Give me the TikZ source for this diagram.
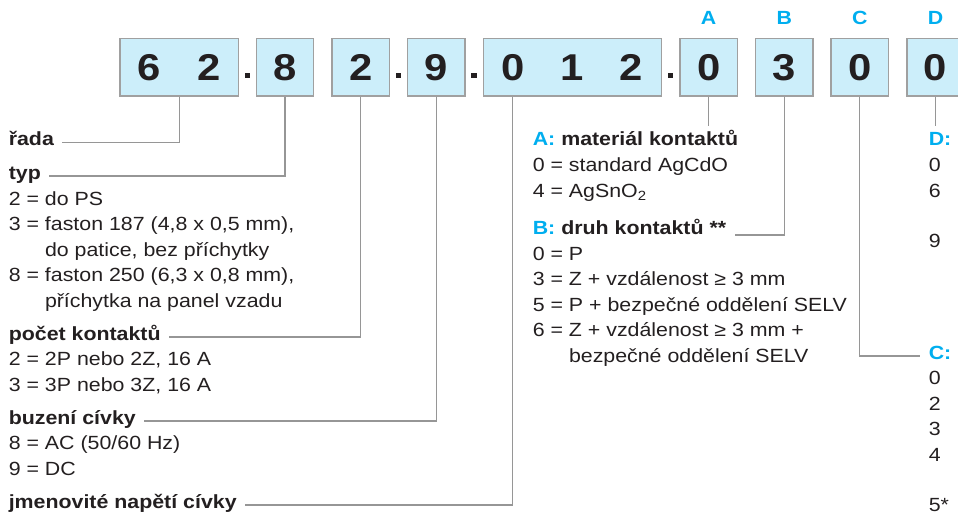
\documentclass[tikz,border=0pt]{standalone}
\usepackage{fontspec}
\setmainfont{Liberation Sans}[FakeStretch=1.12]
\usetikzlibrary{calc}
\definecolor{ink}{RGB}{35,31,32}
\definecolor{keyblue}{RGB}{0,174,239}
\definecolor{cellfill}{RGB}{204,238,250}
\definecolor{cellline}{RGB}{160,160,160}
\definecolor{leader}{RGB}{150,150,150}
\newcommand{\dgt}[1]{\makebox[44.5pt]{#1}}
\tikzset{every picture/.style={line width=0.75pt}}
\tikzset{
  cell/.style={draw=cellline, fill=cellfill, line width=1.1pt, minimum width=43pt, minimum height=43.15pt, inner sep=0pt, text=ink, font=\fontsize{28}{28}\selectfont\bfseries},
  txt/.style={anchor=base west, inner xsep=6pt, text=ink, font=\fontsize{14.3}{19.1}\selectfont},
  head/.style={txt, font=\fontsize{14.3}{19.1}\selectfont\bfseries},
  tag/.style={anchor=base, text=keyblue, font=\fontsize{14.3}{19.1}\selectfont\bfseries},
  leaderline/.style={draw=leader, line width=0.8pt},
}

\begin{document}
\begin{tikzpicture}[x=0.75pt,y=0.75pt,yscale=-1,xscale=1]
            \useasboundingbox (0,0) rectangle (958,516);
            \clip (0,0) rectangle (958,516);

            %Code boxes
            \node[cell] (b1) at (179.2,67.2) {\dgt{6}\dgt{2}};
            \node[cell] (b2) at (285,67.2) {8};
            \node[cell] (b3) at (360.8,67.2) {2};
            \node[cell] (b4) at (436.3,67.2) {9};
            \node[cell] (b5) at (572.3,67.2) {\dgt{0}\dgt{1}\dgt{2}};
            \node[cell] (bA) at (708.7,67.2) {0};
            \node[cell] (bB) at (784.3,67.2) {3};
            \node[cell] (bC) at (859.8,67.2) {0};
            \node[cell] (bD) at (935.5,67.2) {0};
            %Dots between groups
            \foreach \l/\r in {b1/b2,b3/b4,b4/b5,b5/bA}
              \fill[ink] ($(\l.east)!0.5!(\r.west)+(-2.8,5.5)$) rectangle ++(5.6,5.6);
            %Letters above the option boxes
            \foreach \b/\t in {bA/A,bB/B,bC/C,bD/D}
              \node[tag] at ($(\b.north)+(0,-12.7)$) {\t};

            % Text Node
            \node[head] (hRada) at (0.3,145.7) {řada};
            % Text Node
            \node[head] (hTyp) at (0.3,179.5) {typ};
            \node[txt] at (0.3,205.5) {2 = do PS};
            \node[txt] at (0.3,231) {3 = faston 187 (4,8 x 0,5 mm),};
            \node[txt] at (0.3,256.5) {\phantom{3 = }do patice, bez příchytky};
            \node[txt] at (0.3,282) {8 = faston 250 (6,3 x 0,8 mm),};
            \node[txt] at (0.3,307.5) {\phantom{8 = }příchytka na panel vzadu};
            % Text Node
            \node[head] (hPocet) at (0.3,340.5) {počet kontaktů};
            \node[txt] at (0.3,366) {2 = 2P nebo 2Z, 16 A};
            \node[txt] at (0.3,391.5) {3 = 3P nebo 3Z, 16 A};
            % Text Node
            \node[head] (hBuzeni) at (0.3,424.5) {buzení cívky};
            \node[txt] at (0.3,450) {8 = AC (50/60 Hz)};
            \node[txt] at (0.3,475.5) {9 = DC};
            % Text Node
            \node[head] (hNapeti) at (0.3,508.5) {jmenovité napětí cívky};

            % Text Node
            \node[head] (hA) at (524.3,146) {\textcolor{keyblue}{A:} materiál kontaktů};
            \node[txt] at (524.3,172) {0 = standard AgCdO};
            \node[txt] at (524.3,197.5) {4 = AgSnO\textsubscript{2}};
            % Text Node
            \node[head] (hB) at (524.3,235) {\textcolor{keyblue}{B:} druh kontaktů **};
            \node[txt] at (524.3,260.5) {0 = P};
            \node[txt] at (524.3,286) {3 = Z + vzdálenost ≥ 3 mm};
            \node[txt] at (524.3,311.5) {5 = P + bezpečné oddělení SELV};
            \node[txt] at (524.3,337) {6 = Z + vzdálenost ≥ 3 mm +};
            \node[txt] at (524.3,362.5) {\phantom{6 = }bezpečné oddělení SELV};

            % Text Node
            \node[head] (hD) at (920.3,146) {\textcolor{keyblue}{D:}};
            \node[txt] at (920.3,171.5) {0};
            \node[txt] at (920.3,197.5) {6};
            \node[txt] at (920.3,247.5) {9};
            % Text Node
            \node[head] (hC) at (920.3,359.5) {\textcolor{keyblue}{C:}};
            \node[txt] at (920.3,385) {0};
            \node[txt] at (920.3,410.5) {2};
            \node[txt] at (920.3,436) {3};
            \node[txt] at (920.3,461.5) {4};
            \node[txt] at (920.3,512) {5*};

            %Leader lines
            \draw[leaderline] (b1.south) |- (hRada.mid east);
            \draw[leaderline] (b2.south) |- (hTyp.mid east);
            \draw[leaderline] (b3.south) |- (hPocet.mid east);
            \draw[leaderline] (b4.south) |- (hBuzeni.mid east);
            \draw[leaderline] ($(b5.south west)!1/6!(b5.south east)$) |- (hNapeti.mid east);
            \draw[leaderline] (bA.south) -- (bA.south |- hA.north);
            \draw[leaderline] (bB.south) |- (hB.base east);
            \draw[leaderline] (bC.south) |- (hC.mid west);
            \draw[leaderline] (bD.south) -- (bD.south |- hA.north);
\end{tikzpicture}
\end{document}
